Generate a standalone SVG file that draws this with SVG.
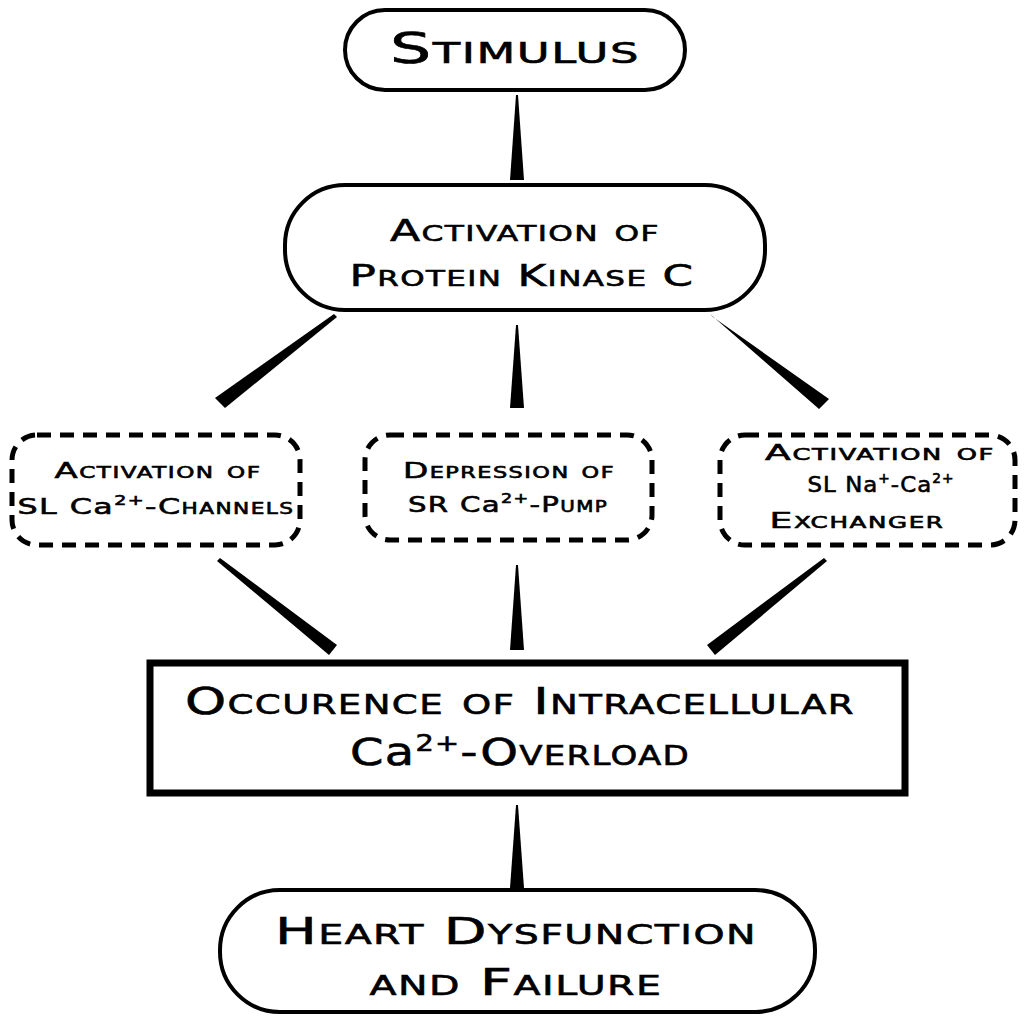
<svg xmlns="http://www.w3.org/2000/svg" width="1024" height="1024" viewBox="0 0 1024 1024">
<style>
.t{font-family:"DejaVu Sans","Liberation Sans",sans-serif;font-variant:small-caps;fill:#000;stroke:#000;stroke-width:0.6;text-anchor:middle;letter-spacing:1px}
.n{font-variant:normal}
.s{fill:#fff;stroke:#000;stroke-width:4}
.d{fill:#fff;stroke:#000;stroke-width:5;stroke-dasharray:14 9}
.w{fill:#000}
.sup{font-size:60%}
</style>
<rect width="1024" height="1024" fill="#fff"/>
<g id="connectors">
<polygon class="w" points="516,95 518,95 524,180 510,180"/>
<polygon class="w" points="334,314 337,317 225,408 215,398"/>
<polygon class="w" points="516,325 518,325 524,408 510,408"/>
<polygon class="w" points="710,314 713,317 829,399 819,409"/>
<polygon class="w" points="217,561 220,558 337,645 329,655"/>
<polygon class="w" points="516,565 518,565 524,650 510,650"/>
<polygon class="w" points="824,558 827,561 715,655 707,645"/>
<polygon class="w" points="516,805 518,805 524,888 510,888"/>
</g>
<g id="stimulus"><rect class="s" x="345" y="10" width="340" height="80" rx="40"/><text class="t" x="515" y="63" font-size="42" textLength="250" lengthAdjust="spacingAndGlyphs">Stimulus</text></g>
<g id="pkc"><rect class="s" x="285" y="185" width="480" height="125" rx="60"/><text class="t" x="525" y="241" font-size="31" textLength="270" lengthAdjust="spacingAndGlyphs">Activation of</text><text class="t" x="522" y="286" font-size="31" textLength="345" lengthAdjust="spacingAndGlyphs">Protein Kinase C</text></g>
<g id="channels"><rect class="d" x="12" y="435" width="288" height="110" rx="25"/><text class="t" x="158" y="478" font-size="22" textLength="207" lengthAdjust="spacingAndGlyphs">Activation of</text><text class="t" x="156" y="514" font-size="22" textLength="277" lengthAdjust="spacingAndGlyphs">SL C<tspan class="n">a</tspan><tspan class="sup" dy="-9">2+</tspan><tspan dy="9">-Channels</tspan></text></g>
<g id="pump"><rect class="d" x="365" y="435" width="287" height="105" rx="25"/><text class="t" x="509" y="478" font-size="22" textLength="212" lengthAdjust="spacingAndGlyphs">Depression of</text><text class="t" x="508" y="512" font-size="22" textLength="200" lengthAdjust="spacingAndGlyphs">SR C<tspan class="n">a</tspan><tspan class="sup" dy="-9">2+</tspan><tspan dy="9">-Pump</tspan></text></g>
<g id="exchanger"><rect class="d" x="720" y="435" width="295" height="110" rx="25"/><text class="t" x="880" y="460" font-size="22" textLength="230" lengthAdjust="spacingAndGlyphs">Activation of</text><text class="t" x="881" y="492" font-size="22" textLength="147" lengthAdjust="spacingAndGlyphs">SL N<tspan class="n">a</tspan><tspan class="sup" dy="-9">+</tspan><tspan dy="9">-C</tspan><tspan class="n">a</tspan><tspan class="sup" dy="-9">2+</tspan></text><text class="t" x="857" y="528" font-size="22" textLength="175" lengthAdjust="spacingAndGlyphs">Exchanger</text></g>
<g id="overload"><rect x="150" y="663" width="755" height="130" fill="#fff" stroke="#000" stroke-width="7"/><text class="t" x="520" y="714" font-size="38" textLength="670" lengthAdjust="spacingAndGlyphs">Occurence of Intracellular</text><text class="t" x="520" y="765" font-size="38" textLength="340" lengthAdjust="spacingAndGlyphs">C<tspan class="n">a</tspan><tspan class="sup" dy="-14">2+</tspan><tspan dy="14">-Overload</tspan></text></g>
<g id="heart"><rect class="s" x="220" y="890" width="595" height="122" rx="60"/><text class="t" x="516" y="944" font-size="38" textLength="482" lengthAdjust="spacingAndGlyphs">Heart Dysfunction</text><text class="t" x="516" y="995" font-size="38" textLength="293" lengthAdjust="spacingAndGlyphs">and Failure</text></g>
</svg>
